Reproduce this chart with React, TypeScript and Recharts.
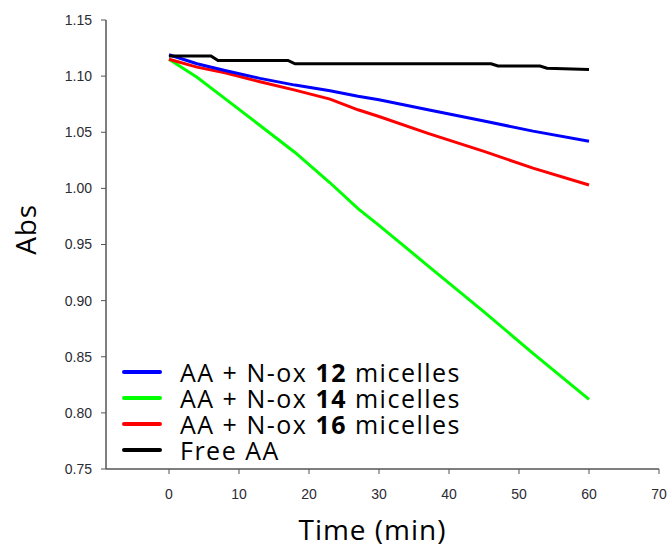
import { LineChart, Line, XAxis, YAxis, Label } from 'recharts';

// absorbance vs time
const timeMin = [0, 4, 8, 13, 18, 23, 27, 30, 37, 45, 52, 60];
const absNox12 = [1.119, 1.111, 1.105, 1.098, 1.092, 1.087, 1.082, 1.079, 1.07, 1.06, 1.051, 1.042];
const absNox14 = [1.115, 1.099, 1.08, 1.056, 1.032, 1.005, 0.982, 0.967, 0.931, 0.89, 0.853, 0.812];
const absNox16 = [1.115, 1.108, 1.103, 1.095, 1.0875, 1.0795, 1.07, 1.064, 1.049, 1.033, 1.018, 1.003];

// free AA drifts down in small steps
const freeTime = [0, 6, 7, 17, 18, 46, 47, 53, 54, 60];
const absFree = [1.118, 1.118, 1.114, 1.114, 1.111, 1.111, 1.109, 1.109, 1.107, 1.106];

const xTicks = [0, 10, 20, 30, 40, 50, 60, 70];
const yTicks = [0.75, 0.8, 0.85, 0.9, 0.95, 1.0, 1.05, 1.1, 1.15];

const legendRows = [
  { pre: 'AA + N-ox ', bold: '12', post: ' micelles', color: '#0000ff' },
  { pre: 'AA + N-ox ', bold: '14', post: ' micelles', color: '#00ff00' },
  { pre: 'AA + N-ox ', bold: '16', post: ' micelles', color: '#ff0000' },
  { pre: 'Free AA', bold: '', post: '', color: '#000000' },
];

const micelleData = timeMin.map((t, i) => ({
  t,
  n12: absNox12[i],
  n14: absNox14[i],
  n16: absNox16[i],
}));
const freeData = freeTime.map((t, i) => ({ t, free: absFree[i] }));

const tickStyle = { fill: '#2b2b33', fontSize: 14, fontFamily: 'Liberation Sans, Arial, sans-serif' };
const titleFont = 'Open Sans, sans-serif';
const frame = '#555555';

function LegendBox() {
  return (
    <div
      style={{
        position: 'absolute',
        left: 122,
        top: 359,
        fontFamily: titleFont,
        fontSize: 25,
        lineHeight: '26px',
        letterSpacing: 1.5,
        color: '#000',
      }}
    >
      {legendRows.map((r) => (
        <div key={r.pre + r.bold} style={{ display: 'flex', alignItems: 'center', whiteSpace: 'nowrap', height: 26 }}>
          <span
            style={{ display: 'inline-block', width: 40, height: 4, borderRadius: 2, background: r.color, marginRight: 18 }}
          />
          <span>
            {r.pre}
            {r.bold && <b>{r.bold}</b>}
            {r.post}
          </span>
        </div>
      ))}
    </div>
  );
}

export default function App() {
  return (
    <div style={{ position: 'absolute', left: 0, top: 0, width: 667, height: 550, background: '#fff' }}>
      <LineChart
        width={667}
        height={550}
        data={micelleData}
        margin={{ top: 20, right: 8, left: 0, bottom: 0 }}
      >
        <XAxis
          dataKey="t"
          type="number"
          domain={[-9, 70]}
          ticks={xTicks}
          interval={0}
          allowDataOverflow
          height={81}
          tick={tickStyle}
          tickSize={5}
          tickMargin={15}
          axisLine={{ stroke: frame, strokeWidth: 1.5 }}
          tickLine={{ stroke: frame }}
        >
          <Label
            value="Time (min)"
            position="insideBottom"
            offset={10}
            dx={-10}
            style={{ fontFamily: titleFont, fontSize: 28, letterSpacing: 1, fill: '#000' }}
          />
        </XAxis>
        <XAxis
          xAxisId="top"
          orientation="top"
          dataKey="t"
          type="number"
          domain={[-9, 70]}
          height={0}
          tick={false}
          tickLine={false}
          axisLine={{ stroke: frame, strokeWidth: 1.5 }}
        />
        <YAxis
          type="number"
          domain={[0.75, 1.15]}
          ticks={yTicks}
          interval={0}
          allowDataOverflow
          width={106}
          tick={tickStyle}
          tickFormatter={(v: number) => v.toFixed(2)}
          tickSize={5}
          tickMargin={9}
          axisLine={{ stroke: frame, strokeWidth: 1.5 }}
          tickLine={{ stroke: frame }}
        >
          <Label
            value="Abs"
            angle={-90}
            position="insideLeft"
            offset={26}
            dy={-15}
            style={{ fontFamily: titleFont, fontSize: 28, letterSpacing: 0.8, fill: '#000', textAnchor: 'middle' }}
          />
        </YAxis>
        <YAxis
          yAxisId="right"
          orientation="right"
          type="number"
          domain={[0.75, 1.15]}
          width={0}
          tick={false}
          tickLine={false}
          axisLine={{ stroke: frame, strokeWidth: 1.5 }}
        />
        <Line dataKey="n14" stroke="#00ff00" strokeWidth={3} dot={false} isAnimationActive={false} />
        <Line dataKey="n16" stroke="#ff0000" strokeWidth={3} dot={false} isAnimationActive={false} />
        <Line dataKey="n12" stroke="#0000ff" strokeWidth={3} dot={false} isAnimationActive={false} />
        <Line
          data={freeData}
          dataKey="free"
          stroke="#000000"
          strokeWidth={3}
          dot={false}
          isAnimationActive={false}
        />
      </LineChart>
      <LegendBox />
    </div>
  );
}
